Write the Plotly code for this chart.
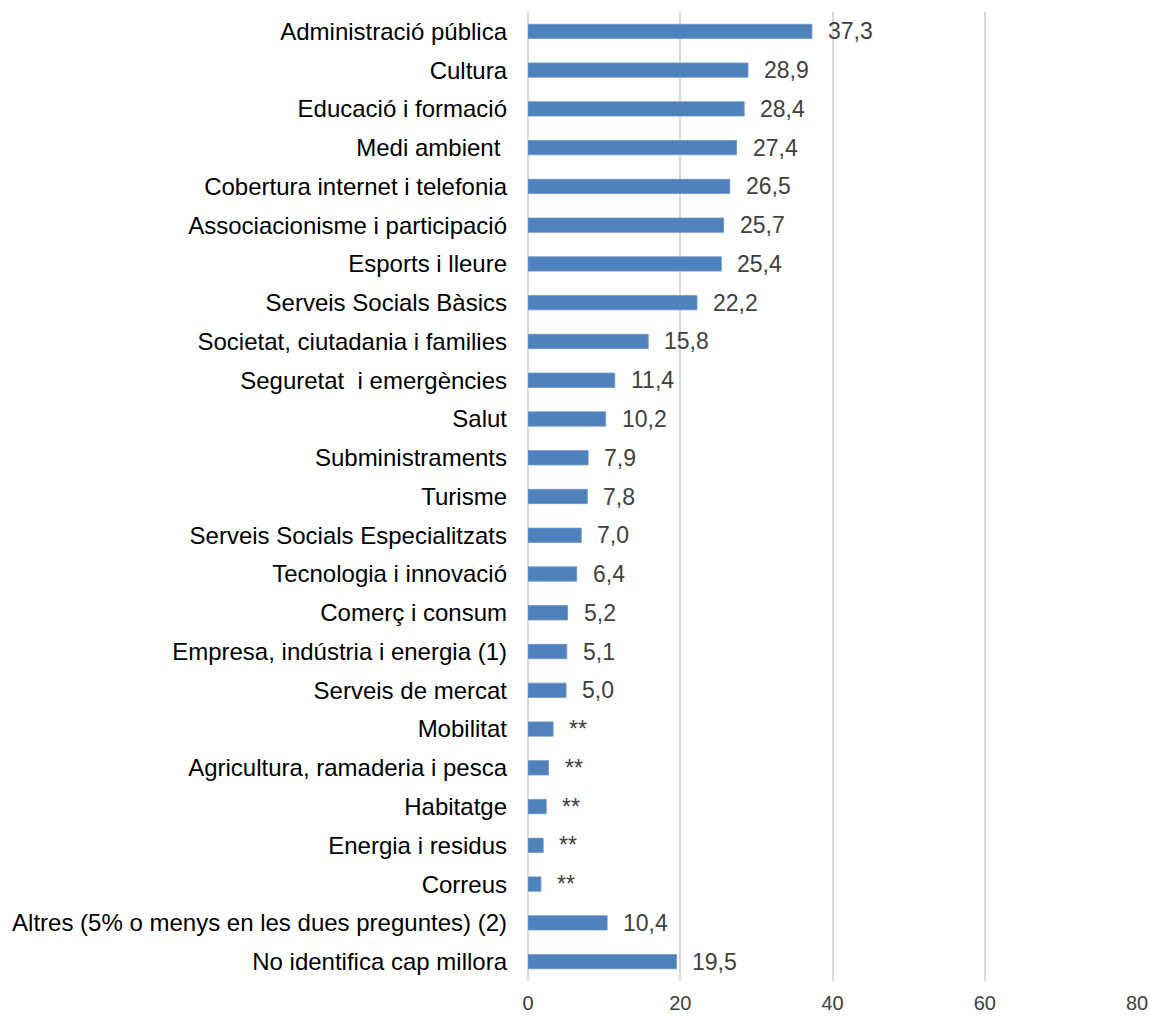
import plotly.graph_objects as go

categories = [
    "Administració pública",
    "Cultura",
    "Educació i formació",
    "Medi ambient\u00a0",
    "Cobertura internet i telefonia",
    "Associacionisme i participació",
    "Esports i lleure",
    "Serveis Socials Bàsics",
    "Societat, ciutadania i families",
    "Seguretat\u00a0 i emergències",
    "Salut",
    "Subministraments",
    "Turisme",
    "Serveis Socials Especialitzats",
    "Tecnologia i innovació",
    "Comerç i consum",
    "Empresa, indústria i energia (1)",
    "Serveis de mercat",
    "Mobilitat",
    "Agricultura, ramaderia i pesca",
    "Habitatge",
    "Energia i residus",
    "Correus",
    "Altres (5% o menys en les dues preguntes) (2)",
    "No identifica cap millora",
]
values = [37.3, 28.9, 28.4, 27.4, 26.5, 25.7, 25.4, 22.2, 15.8, 11.4, 10.2, 7.9, 7.8,
          7.0, 6.4, 5.2, 5.1, 5.0, 3.3, 2.7, 2.4, 2.0, 1.7, 10.4, 19.5]
labels = ["37,3", "28,9", "28,4", "27,4", "26,5", "25,7", "25,4", "22,2", "15,8", "11,4",
          "10,2", "7,9", "7,8", "7,0", "6,4", "5,2", "5,1", "5,0", "**", "**", "**", "**",
          "**", "10,4", "19,5"]
x_ticks = [0, 20, 40, 60, 80]

FONT = "Liberation Sans, Arial, sans-serif"

fig = go.Figure(go.Bar(
    x=values, y=categories, orientation="h",
    marker=dict(color="#4F81BD", line=dict(color="#6f97c9", width=0.8)),
    hoverinfo="x+y",
))

for v, c, t in zip(values, categories, labels):
    fig.add_annotation(x=v, y=c, text=t, showarrow=False, xanchor="left",
                       xshift=14, font=dict(family=FONT, size=23, color="#404040"))

fig.update_layout(
    width=1150, height=1016,
    margin=dict(l=528, r=13, t=12, b=35),
    paper_bgcolor="white", plot_bgcolor="white",
    bargap=0.63,
    showlegend=False,
    font=dict(family=FONT),
)
fig.update_xaxes(
    range=[0, 80], tickvals=x_ticks, showgrid=True, gridcolor="#d9d9d9", gridwidth=2,
    zeroline=True, zerolinecolor="#d9d9d9", zerolinewidth=2, showline=False,
    tickfont=dict(family=FONT, size=20, color="#404040"), ticklabelstandoff=8,
    automargin=False, fixedrange=True,
)
fig.update_yaxes(
    autorange="reversed", showgrid=False, showline=False, zeroline=False,
    tickfont=dict(family=FONT, size=24, color="#000000"), ticklabelstandoff=20,
    automargin=False, fixedrange=True,
)

fig.write_html("out.html", config={"displayModeBar": False},
               post_script="document.body.style.margin='0';document.body.style.overflow='hidden';")
